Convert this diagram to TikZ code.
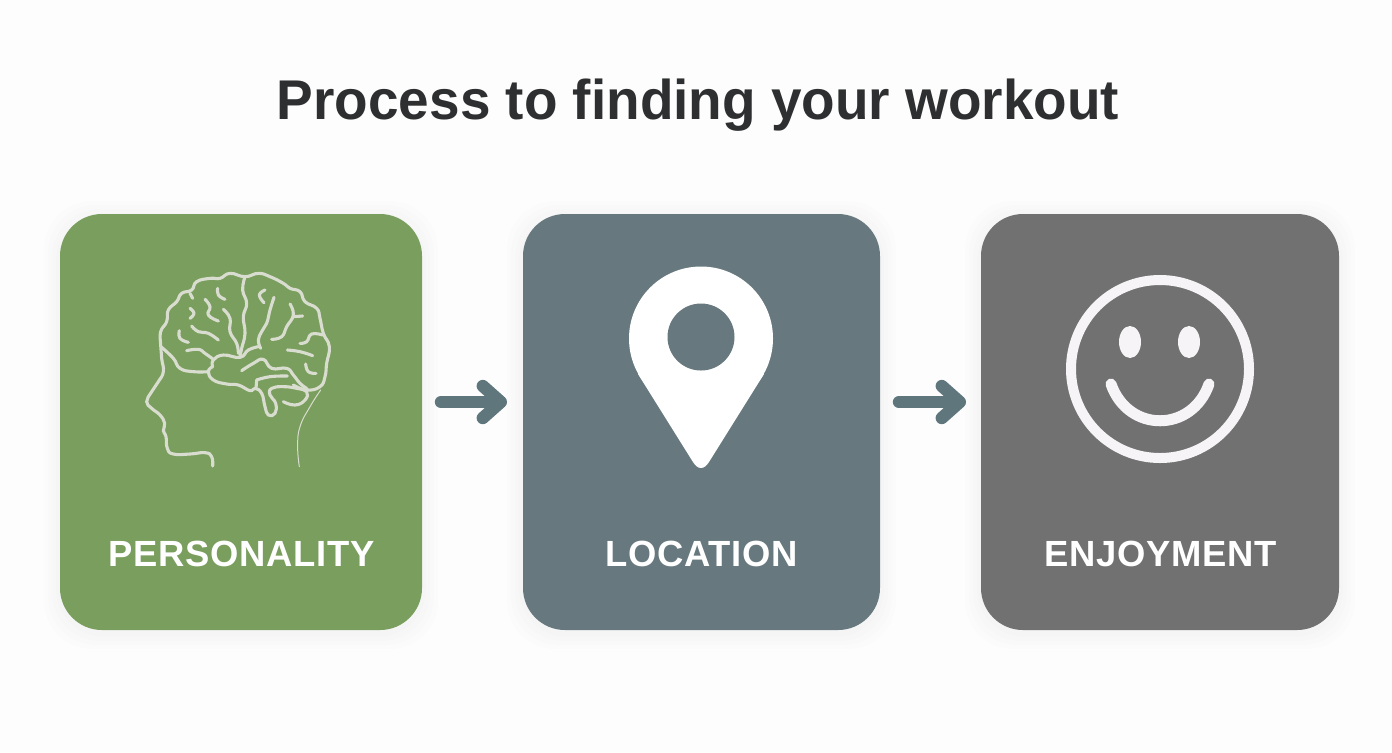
\documentclass[tikz,border=0pt]{standalone}
\usepackage{fontspec}
\setmainfont{Liberation Sans}
\usetikzlibrary{arrows.meta}
\definecolor{bgc}{HTML}{FDFDFD}
\definecolor{titlec}{HTML}{2E2F30}
\definecolor{greenc}{HTML}{7A9E5E}
\definecolor{slatec}{HTML}{67797E}
\definecolor{grayc}{HTML}{717171}
\definecolor{arrowc}{HTML}{5F777C}
\definecolor{brainc}{HTML}{D9DDCF}
\definecolor{iconc}{HTML}{F6F4F6}
\tikzset{
 x=0.5pt,y=-0.5pt,
 card/.style={rounded corners=21pt,minimum height=208pt,inner sep=0pt,outer sep=0pt},
 cardlabel/.style={text=white,font=\fontsize{18.2pt}{20pt}\selectfont\bfseries\addfontfeature{LetterSpace=2.2},inner sep=0pt},
 conn/.style={arrowc,line width=6.2pt,line cap=round,-{Straight Barb[length=9pt,width=16pt,line width=6.2pt,round]}},
 brainline/.style={brainc,line width=1.55pt,line cap=round,line join=round},
 thinline/.style={brainc,line width=.5pt,line cap=round},
 smile/.style={iconc,line cap=round},
}
\newcommand{\softshadow}[4]{%
 \foreach \g in {16,12,8,4}{\fill[black,opacity=.006,rounded corners=24pt] (#1-\g,#2-\g+3) rectangle (#3+\g,#4+\g+3);}}
\newcommand{\curve}[2][brainline]{\draw[#1] plot[smooth,tension=.8] coordinates {#2};}
\begin{document}
\begin{tikzpicture}
\useasboundingbox (0,0) rectangle (1392,752);
\fill[bgc] (0,0) rectangle (1392,752);
\node[text=titlec,inner sep=0pt,anchor=base,font=\fontsize{28pt}{32pt}\selectfont\bfseries] (title) at (698,119.5) {\scalebox{.981}[1]{Process to finding your workout}};
\softshadow{60}{214}{422}{630}
\softshadow{523}{214}{880}{630}
\softshadow{981}{214}{1339}{630}
\node[card,fill=greenc,minimum width=181pt] (c1) at (241,422) {};
\node[card,fill=slatec,minimum width=178.5pt] (c2) at (701.5,422) {};
\node[card,fill=grayc,minimum width=179pt] (c3) at (1160,422) {};
\node[cardlabel] (l1) at (241.5,554) {PERSONALITY};
\node[cardlabel] (l2) at (701.5,554) {LOCATION};
\node[cardlabel] (l3) at (1160.5,554) {ENJOYMENT};
\draw[conn,shorten <=9.5pt,shorten >=8pt] ([yshift=10pt]c1.east) -- ([yshift=10pt]c2.west);
\draw[conn,shorten <=9.5pt,shorten >=7.5pt] ([yshift=10pt]c2.east) -- ([yshift=10pt]c3.west);
% brain, in zoom coordinates
\begin{scope}[shift={(130,260)},x=0.16667pt,y=-0.16667pt]
\curve{(248,618)(245,590)(225,578)(180,582)(130,582)(112,565)(108,530)(100,512)(104,490)(90,465)(65,445)(50,425)(65,395)(85,365)(100,335)(95,295)(92,255)(92,215)(110,185)(115,150)(140,125)(155,100)(185,90)(200,65)(240,55)(270,55)(300,40)(345,50)(385,40)(420,50)(460,70)(480,85)(510,95)(525,125)(560,145)(570,175)(580,220)(598,260)(590,310)(585,350)(570,380)(530,390)(490,375)}
\curve{(95,262)(130,295)(150,325)(190,335)(235,335)}
\curve{(248,320)(235,335)(250,360)(290,372)(325,375)(360,392)(375,385)(395,400)(405,440)(415,465)(435,460)(437,430)(420,405)(425,385)(460,380)(500,385)(530,395)(525,420)(495,435)(460,425)}
\curve{(248,320)(250,300)(280,285)(330,292)(355,270)(385,260)}
\curve{(345,50)(338,90)(350,130)(340,170)(345,220)(335,265)(330,290)}
\curve{(280,148)(300,175)(300,215)(320,250)(325,280)}
\curve{(170,272)(205,268)(225,280)(250,298)}
\curve{(185,198)(205,215)(235,220)(265,240)}
\curve{(148,212)(150,235)(175,247)}
\curve{(180,145)(192,160)(180,175)}
\curve{(225,118)(240,140)(235,165)(265,183)}
\curve{(263,85)(265,105)(285,118)}
\curve{(180,100)(188,115)}
\curve{(405,90)(388,105)(402,128)}
\curve{(432,112)(420,150)(410,190)(395,215)(385,240)(392,265)}
\curve{(480,132)(490,165)(470,200)(455,230)(425,238)}
\curve{(490,170)(518,168)}
\curve{(578,225)(545,222)(530,245)(510,250)}
\curve{(472,270)(510,275)(548,287)}
\curve{(527,312)(535,335)(558,340)}
\curve{(335,332)(370,310)(400,298)(425,325)(470,325)(490,345)(510,370)(530,385)}
\curve{(380,360)(420,350)(472,348)}
\curve{(380,360)(378,385)}
\curve[thinline]{(572,390)(540,440)(510,500)(503,560)(508,620)}
\end{scope}
% pin
\fill[white] (701,338.5) circle[radius=72];
\fill[white] (638,374) -- (693,462) .. controls (698,470) and (704,470) .. (709,462) -- (764,374) -- cycle;
\fill[slatec] (701,337) circle[radius=33.5];
% smiley
\draw[smile,line width=5pt] (1160,369) circle[radius=89];
\fill[iconc] (1130,342) ellipse[x radius=11,y radius=16];
\fill[iconc] (1189,342) ellipse[x radius=11,y radius=16];
\draw[smile,line width=5.5pt] (1111,384) .. controls (1128,433) and (1192,433) .. (1209,384);
\end{tikzpicture}
\end{document}
